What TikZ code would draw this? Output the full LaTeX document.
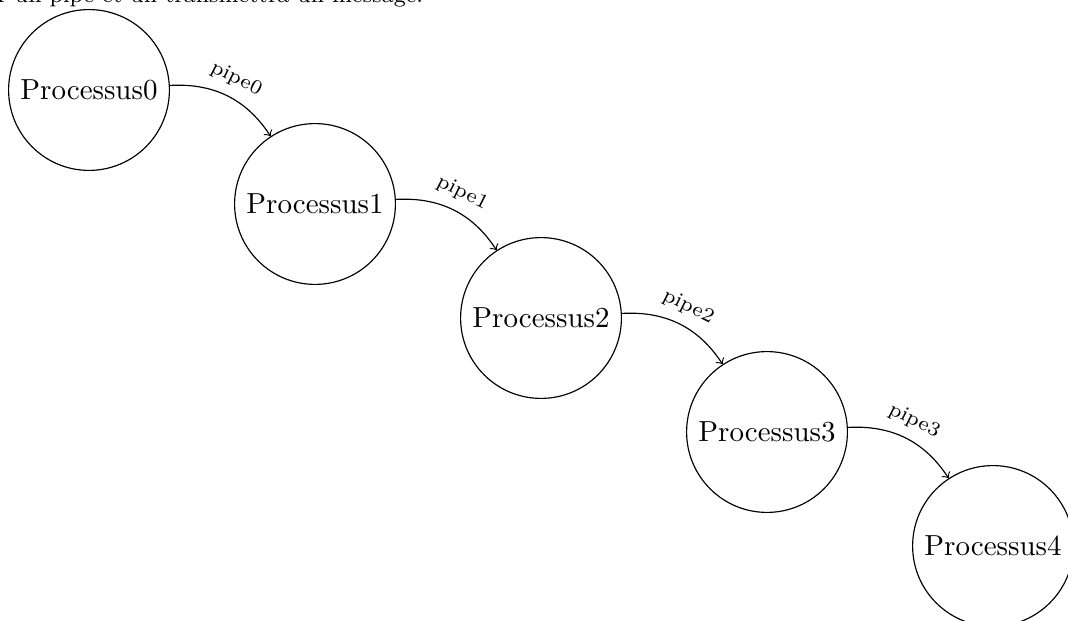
\documentclass[tikz,border=0pt]{standalone}
\begin{document}
\begin{tikzpicture}[x=0.3448pt,y=-0.3448pt,
  proc/.style={draw,circle},
  pipe/.style={->,bend left},
  pipelabel/.style={sloped,above,font=\scriptsize}]
\useasboundingbox (0,0) rectangle (1068,621);
\node[anchor=base west,font=\fontsize{7.8}{9}\selectfont,inner sep=0pt] (txt) at (-3,2.5) {r un pipe et un transmettra un message.};
\node[proc] (p0) at (89,90) {Processus0};
\node[proc] (p1) at (315,204) {Processus1};
\node[proc] (p2) at (541,318) {Processus2};
\node[proc] (p3) at (767,432) {Processus3};
\node[proc] (p4) at (993,546) {Processus4};
\draw[pipe] (p0) to node[pipelabel] {pipe0} (p1);
\draw[pipe] (p1) to node[pipelabel] {pipe1} (p2);
\draw[pipe] (p2) to node[pipelabel] {pipe2} (p3);
\draw[pipe] (p3) to node[pipelabel] {pipe3} (p4);
\end{tikzpicture}
\end{document}
